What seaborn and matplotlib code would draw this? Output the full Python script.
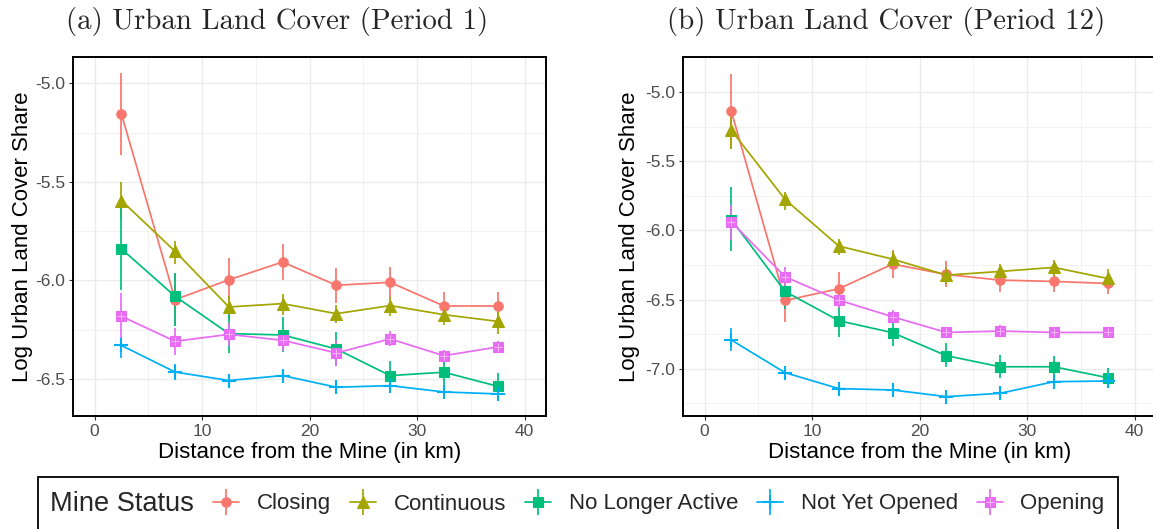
import matplotlib
matplotlib.use("Agg")
import matplotlib.pyplot as plt
from matplotlib.lines import Line2D
from matplotlib.patches import Rectangle
from matplotlib.ticker import FuncFormatter, MultipleLocator
import numpy as np
import pandas as pd
import seaborn as sns

sns.set_theme(style="white")
plt.rcParams["font.family"] = ["Liberation Sans", "DejaVu Sans"]

# Distance bins (km from the mine, bin midpoints)
distance = [2.5, 7.5, 12.5, 17.5, 22.5, 27.5, 32.5, 37.5]
statuses = ["Closing", "Continuous", "No Longer Active", "Not Yet Opened", "Opening"]

# Period 1: mean log urban share with lower / upper interval bounds
p1_closing = [-5.155, -6.098, -5.997, -5.907, -6.025, -6.010, -6.130, -6.130]
p1_closing_lo = [-5.363, -6.233, -6.106, -6.000, -6.115, -6.090, -6.208, -6.208]
p1_closing_hi = [-4.950, -5.963, -5.887, -5.816, -5.938, -5.931, -6.059, -6.059]
p1_continuous = [-5.595, -5.853, -6.135, -6.118, -6.169, -6.128, -6.174, -6.208]
p1_continuous_lo = [-5.690, -5.916, -6.199, -6.174, -6.216, -6.179, -6.228, -6.270]
p1_continuous_hi = [-5.503, -5.799, -6.081, -6.069, -6.127, -6.084, -6.132, -6.157]
p1_nla = [-5.840, -6.081, -6.270, -6.277, -6.348, -6.483, -6.466, -6.537]
p1_nla_lo = [-6.047, -6.233, -6.368, -6.365, -6.432, -6.554, -6.546, -6.605]
p1_nla_hi = [-5.608, -5.963, -6.166, -6.186, -6.264, -6.410, -6.394, -6.470]
p1_nyo = [-6.330, -6.465, -6.508, -6.483, -6.542, -6.534, -6.566, -6.576]
p1_nyo_lo = [-6.394, -6.507, -6.541, -6.517, -6.574, -6.566, -6.600, -6.608]
p1_nyo_hi = [-6.292, -6.422, -6.478, -6.453, -6.512, -6.503, -6.534, -6.546]
p1_opening = [-6.182, -6.309, -6.274, -6.304, -6.368, -6.297, -6.382, -6.338]
p1_opening_lo = [-6.301, -6.377, -6.334, -6.360, -6.432, -6.334, -6.410, -6.368]
p1_opening_hi = [-6.064, -6.242, -6.216, -6.250, -6.301, -6.258, -6.351, -6.309]

# Period 12
p12_closing = [-5.140, -6.507, -6.422, -6.244, -6.319, -6.360, -6.369, -6.384]
p12_closing_lo = [-5.409, -6.661, -6.540, -6.341, -6.413, -6.444, -6.449, -6.461]
p12_closing_hi = [-4.868, -6.336, -6.304, -6.143, -6.223, -6.275, -6.288, -6.312]
p12_continuous = [-5.277, -5.777, -6.114, -6.208, -6.324, -6.297, -6.268, -6.348]
p12_continuous_lo = [-5.409, -5.850, -6.179, -6.276, -6.389, -6.353, -6.331, -6.420]
p12_continuous_hi = [-5.156, -5.722, -6.059, -6.148, -6.264, -6.244, -6.211, -6.280]
p12_nla = [-5.922, -6.442, -6.653, -6.740, -6.906, -6.986, -6.986, -7.065]
p12_nla_lo = [-6.148, -6.572, -6.769, -6.836, -6.990, -7.070, -7.063, -7.142]
p12_nla_hi = [-5.686, -6.312, -6.540, -6.649, -6.817, -6.901, -6.909, -6.998]
p12_nyo = [-6.793, -7.029, -7.144, -7.154, -7.202, -7.178, -7.094, -7.089]
p12_nyo_lo = [-6.872, -7.077, -7.190, -7.202, -7.250, -7.226, -7.142, -7.142]
p12_nyo_hi = [-6.709, -6.985, -7.101, -7.106, -7.154, -7.135, -7.046, -7.041]
p12_opening = [-5.939, -6.336, -6.504, -6.625, -6.738, -6.728, -6.738, -6.738]
p12_opening_lo = [-6.071, -6.408, -6.564, -6.673, -6.781, -6.769, -6.781, -6.781]
p12_opening_hi = [-5.818, -6.268, -6.444, -6.576, -6.697, -6.685, -6.697, -6.697]

p1_series = [
    (p1_closing, p1_closing_lo, p1_closing_hi),
    (p1_continuous, p1_continuous_lo, p1_continuous_hi),
    (p1_nla, p1_nla_lo, p1_nla_hi),
    (p1_nyo, p1_nyo_lo, p1_nyo_hi),
    (p1_opening, p1_opening_lo, p1_opening_hi),
]
p12_series = [
    (p12_closing, p12_closing_lo, p12_closing_hi),
    (p12_continuous, p12_continuous_lo, p12_continuous_hi),
    (p12_nla, p12_nla_lo, p12_nla_hi),
    (p12_nyo, p12_nyo_lo, p12_nyo_hi),
    (p12_opening, p12_opening_lo, p12_opening_hi),
]


def to_frame(series):
    rows = []
    for status, (mean, lo, hi) in zip(statuses, series):
        for d, m, l, h in zip(distance, mean, lo, hi):
            rows.append({"dist": d, "share": m, "lo": l, "hi": h, "status": status})
    return pd.DataFrame(rows)


colors = dict(zip(statuses, ["#F8766D", "#A3A500", "#00BF7D", "#00B0F6", "#E76BF3"]))
markers = dict(zip(statuses, ["o", "^", "s", "+", "s"]))
msizes = dict(zip(statuses, [6.8, 8.0, 6.6, 10.0, 7.2]))
lw = 1.25

W, H = 1153, 529
fig = plt.figure(figsize=(W / 100, H / 100), dpi=100)


def px_axes(x0, x1, y0, y1):
    return fig.add_axes([x0 / W, 1 - y1 / H, (x1 - x0) / W, (y1 - y0) / H])


ax1 = px_axes(73, 546, 57, 416)
ax2 = px_axes(683, 1156, 57, 416)

panels = [
    (ax1, to_frame(p1_series), (-6.688, -4.867), "(a) Urban Land Cover (Period 1)", 277),
    (ax2, to_frame(p12_series), (-7.342, -4.747), "(b) Urban Land Cover (Period 12)", 886),
]

for ax, df, ylim, title, tx in panels:
    ax.set_axisbelow(True)
    for status in statuses:
        sub = df[df["status"] == status]
        c = colors[status]
        ax.vlines(sub["dist"], sub["lo"], sub["hi"], color=c, lw=lw, zorder=2)
        sns.lineplot(
            data=sub, x="dist", y="share", ax=ax, color=c, lw=lw,
            marker=markers[status], markersize=msizes[status],
            markeredgecolor=c, markeredgewidth=1.5 if status == "Not Yet Opened" else 0.8,
            errorbar=None, sort=False, zorder=3,
        )
        if status == "Opening":
            ax.plot(sub["dist"], sub["share"], ls="none", marker="+",
                    ms=msizes[status] * 0.8, mew=0.6, color="#F6C2F8", zorder=4)
    ax.set_xlim(-2, 42)
    ax.set_ylim(*ylim)
    ax.xaxis.set_major_locator(MultipleLocator(10))
    ax.xaxis.set_minor_locator(MultipleLocator(5))
    ax.yaxis.set_major_locator(MultipleLocator(0.5))
    ax.yaxis.set_minor_locator(MultipleLocator(0.25))
    ax.yaxis.set_major_formatter(FuncFormatter(lambda v, p: f"{v:.1f}"))
    ax.grid(which="major", color="#EBEBEB", lw=1.0)
    ax.grid(which="minor", color="#F2F2F2", lw=0.7)
    for sp in ax.spines.values():
        sp.set_color("black")
        sp.set_linewidth(1.4)
    ax.tick_params(which="major", length=3.0, width=0.8, color="#333333",
                   labelsize=12.5, labelcolor="#4D4D4D", pad=2.5,
                   bottom=True, left=True)
    ax.tick_params(which="minor", length=0)
    ax.set_xlabel("Distance from the Mine (in km)", fontsize=16, color="black")
    ax.set_ylabel("Log Urban Land Cover Share", fontsize=16, color="black")
    ax.xaxis.set_label_coords(0.5, -0.103)
    ax.xaxis.label.set_verticalalignment("center")
    fig.text(tx / W, 1 - 21 / H, title, family=["cmr10", "DejaVu Serif"],
             fontsize=20.8, ha="center", va="center")

ax1.yaxis.set_label_coords((22 - 73) / 473, 0.5)
ax2.yaxis.set_label_coords((630 - 683) / 473, 0.5)
for ax in (ax1, ax2):
    ax.yaxis.label.set_verticalalignment("center")

# Shared legend along the bottom
fig.patches.append(Rectangle((38 / W, -0.2), (1118 - 38) / W, 0.2 + 1 - 477 / H,
                             transform=fig.transFigure, fill=False,
                             edgecolor="black", lw=1.3))
fig.text(50 / W, 1 - 504 / H, "Mine Status", fontsize=19.6, va="center", ha="left")

handles = []
for status in statuses:
    c = colors[status]
    parts = [
        Line2D([], [], color=c, lw=lw, marker=markers[status], ms=msizes[status],
               mec=c, mew=1.5 if status == "Not Yet Opened" else 0.8),
        Line2D([], [], color=c, ls="none", marker="|", ms=19, mew=lw),
    ]
    if status == "Opening":
        parts.append(Line2D([], [], color="#F6C2F8", ls="none", marker="+",
                            ms=msizes[status] * 0.8, mew=0.6))
    handles.append(tuple(parts))

fig.legend(handles, statuses, loc="center left",
           bbox_to_anchor=(213 / W, 1 - 504 / H), ncol=5, frameon=False,
           fontsize=16, handlelength=1.17, handletextpad=0.8, columnspacing=0.85,
           borderpad=0, borderaxespad=0)

fig.savefig("out.png", dpi=100)
